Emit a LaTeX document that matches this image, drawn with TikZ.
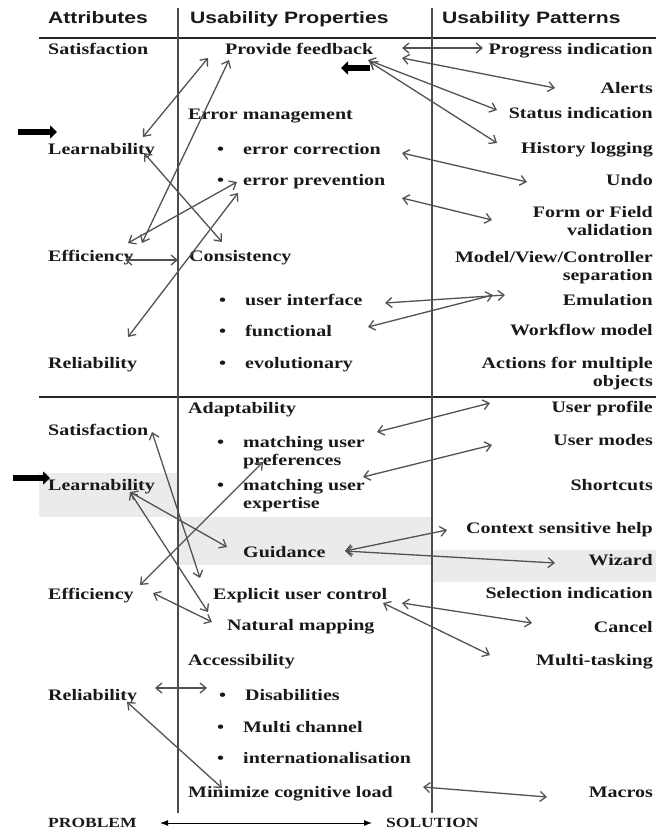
\documentclass[tikz,border=0pt]{standalone}
\usepackage{fontspec}
\setmainfont[FakeStretch=1.25]{Liberation Serif}
\setsansfont[FakeStretch=1.28]{Liberation Sans}
\usetikzlibrary{arrows.meta,calc}

\newcommand{\blt}[1]{\begin{tabular}[t]{@{}l@{\hspace{19pt}}l@{}}\textbullet & #1\end{tabular}}
\newcommand{\rtwo}[1]{\begin{tabular}[t]{@{}r@{}}#1\end{tabular}}

\tikzset{
  lbl/.style={inner sep=0pt, text=black!90, font=\fontsize{16}{18}\selectfont\bfseries},
  attr/.style={lbl, anchor=base west},
  prop/.style={lbl, anchor=base west},
  pat/.style={lbl, anchor=base east},
  hdr/.style={inner sep=0pt, anchor=base west, text=black!90, font=\sffamily\bfseries\fontsize{16.5}{18}\selectfont},
  ends/.style={lbl, anchor=base west, font=\fontsize{14}{16}\selectfont\bfseries},
  link/.style={draw=black!68, line width=1.3pt, {Straight Barb[length=6pt,width=10pt]}-{Straight Barb[length=6pt,width=10pt]}},
  pointer/.style={line width=6pt, -{Triangle[length=7pt,width=13pt]}},
  band/.style={fill=black!8, draw=none},
  rule/.style={draw=black!85, line width=1.1pt},
  sep/.style={draw=black!70, line width=1.3pt}
}

\begin{document}
\begin{tikzpicture}[x=1pt,y=-1pt]
\useasboundingbox (0,0) rectangle (656,833);

% shaded rows
\fill[band] (39,473) rectangle (178,517);
\fill[band] (178,517) rectangle (432,565);
\fill[band] (432,550) rectangle (656,582);

% table lines
\draw[rule] (39,38) -- (656,38);
\draw[rule] (39,397) -- (656,397);
\draw[sep] (178,8) -- (178,813);
\draw[sep] (432,8) -- (432,813);

% headings
\node[hdr] (hAttr) at (48,23) {Attributes};
\node[hdr] (hProp) at (190,23) {Usability Properties};
\node[hdr] (hPat) at (442,23) {Usability Patterns};

% attributes
\node[attr] (satA) at (48,54) {Satisfaction};
\node[attr] (lrnA) at (48,154) {Learnability};
\node[attr] (effA) at (48,261) {Efficiency};
\node[attr] (relA) at (48,368) {Reliability};
\node[attr] (satB) at (48,435) {Satisfaction};
\node[attr] (lrnB) at (48,490) {Learnability};
\node[attr] (effB) at (48,599) {Efficiency};
\node[attr] (relB) at (48,700) {Reliability};

% properties
\node[prop] (fb) at (225,54) {Provide feedback};
\node[prop] (errM) at (188,119) {Error management};
\node[prop] (errC) at (217,154) {\blt{error correction}};
\node[prop] (errP) at (217,185) {\blt{error prevention}};
\node[prop] (cons) at (189,261) {Consistency};
\node[prop] (ui) at (219,305) {\blt{user interface}};
\node[prop] (func) at (219,336) {\blt{functional}};
\node[prop] (evo) at (219,368) {\blt{evolutionary}};
\node[prop] (adapt) at (188,413) {Adaptability};
\node[prop] (mPref) at (217,447) {\blt{matching user\\ & preferences}};
\node[prop] (mExp) at (217,490) {\blt{matching user\\ & expertise}};
\node[prop] (guid) at (243,557) {Guidance};
\node[prop] (expl) at (213,599) {Explicit user control};
\node[prop] (nat) at (227,630) {Natural mapping};
\node[prop] (acc) at (188,665) {Accessibility};
\node[prop] (dis) at (219,700) {\blt{Disabilities}};
\node[prop] (multi) at (217,732) {\blt{Multi channel}};
\node[prop] (intl) at (217,763) {\blt{internationalisation}};
\node[prop] (minCog) at (188,797) {Minimize cognitive load};

% patterns
\node[pat] (prog) at (653,54) {Progress indication};
\node[pat] (alerts) at (653,93) {Alerts};
\node[pat] (status) at (653,118) {Status indication};
\node[pat] (hist) at (653,153) {History logging};
\node[pat] (undo) at (653,185) {Undo};
\node[pat] (form) at (653,217) {\rtwo{Form or Field\\validation}};
\node[pat] (mvc) at (653,262) {\rtwo{Model/View/Controller\\separation}};
\node[pat] (emu) at (653,305) {Emulation};
\node[pat] (wflow) at (653,335) {Workflow model};
\node[pat] (act) at (653,368) {\rtwo{Actions for multiple\\objects}};
\node[pat] (uProf) at (653,412) {User profile};
\node[pat] (uModes) at (653,445) {User modes};
\node[pat] (short) at (653,490) {Shortcuts};
\node[pat] (ctx) at (653,533) {Context sensitive help};
\node[pat] (wiz) at (653,565) {Wizard};
\node[pat] (sel) at (653,598) {Selection indication};
\node[pat] (cancel) at (653,632) {Cancel};
\node[pat] (mTask) at (653,665) {Multi-tasking};
\node[pat] (macros) at (653,797) {Macros};

\node[ends] (problem) at (48,827) {PROBLEM};
\node[ends] (solution) at (386,827) {SOLUTION};

% upper part
\draw[link] ($(lrnA.base west)+(95,-17)$) -- ($(fb.base west)+(-17,4)$);
\draw[link] ($(effA.base west)+(94,-18)$) -- ($(fb.base west)+(4,6)$);
\draw[link] ($(lrnA.base west)+(96,-1)$) -- ($(cons.base west)+(33,-19)$);
\draw[link] ($(effA.base west)+(80,-18)$) -- ($(errP.base west)+(20,-3)$);
\draw[link] ($(relA.base west)+(80,-31)$) -- ($(errP.base west)+(21,8)$);
\draw[link] ($(effA.base west)+(77,-1)$) -- ($(cons.base west)+(-11,-1)$);
\draw[link] ($(fb.base west)+(177,-6)$) -- ($(prog.base east)+(-170,-6)$);
\draw[link] ($(fb.base west)+(177,4)$) -- ($(alerts.base east)+(-98,-5)$);
\draw[link] ($(fb.base west)+(143,6)$) -- ($(status.base east)+(-156,-8)$);
\draw[link] ($(fb.base west)+(145,8)$) -- ($(hist.base east)+(-156,-10)$);
\draw[link] ($(errC.base west)+(185,-1)$) -- ($(undo.base east)+(-126,-3)$);
\draw[link] ($(errP.base west)+(185,13)$) -- ($(form.base east)+(-161,3)$);
\draw[link] ($(ui.base west)+(166,-2)$) -- ($(emu.base east)+(-148,-10)$);
\draw[link] ($(func.base west)+(149,-9)$) -- ($(emu.base east)+(-160,-10)$);

% lower part
\draw[link] ($(mPref.base west)+(160,-15)$) -- ($(uProf.base east)+(-163,-9)$);
\draw[link] ($(mExp.base west)+(146,-13)$) -- ($(uModes.base east)+(-161,0)$);
\draw[link] ($(guid.base west)+(102,-6)$) -- ($(ctx.base east)+(-206,-3)$);
\draw[link] ($(guid.base west)+(102,-6)$) -- ($(wiz.base east)+(-98,-2)$);
\draw[link] ($(satB.base west)+(104,-3)$) -- ($(expl.base west)+(-13,-21)$);
\draw[link] ($(lrnB.base west)+(82,2)$) -- ($(guid.base west)+(-16,-10)$);
\draw[link] ($(lrnB.base west)+(82,2)$) -- ($(nat.base west)+(-19,-18)$);
\draw[link] ($(effB.base west)+(92,-14)$) -- ($(mPref.base west)+(46,15)$);
\draw[link] ($(effB.base west)+(105,-6)$) -- ($(nat.base west)+(-15,-8)$);
\draw[link] ($(expl.base west)+(189,4)$) -- ($(cancel.base east)+(-121,-9)$);
\draw[link] ($(expl.base west)+(170,4)$) -- ($(mTask.base east)+(-163,-10)$);
\draw[link] ($(relB.base west)+(107,-12)$) -- ($(dis.base west)+(-12,-12)$);
\draw[link] ($(relB.base west)+(79,2)$) -- ($(minCog.base west)+(34,-9)$);
\draw[link] ($(minCog.base west)+(235,-10)$) -- ($(macros.base east)+(-106,0)$);

\draw[{Latex[length=8pt,width=6pt]}-{Latex[length=8pt,width=6pt]}, line width=1pt]
  ($(problem.base west)+(112,-4)$) -- ($(solution.base west)+(-14,-4)$);

% black pointers
\draw[pointer] ($(lrnA.base west)+(-30,-22)$) -- ($(lrnA.base west)+(9,-22)$);
\draw[pointer] ($(lrnB.base west)+(-35,-12)$) -- ($(lrnB.base west)+(2,-12)$);
\draw[pointer] ($(fb.base west)+(145,14)$) -- ($(fb.base west)+(116,14)$);
\end{tikzpicture}
\end{document}
